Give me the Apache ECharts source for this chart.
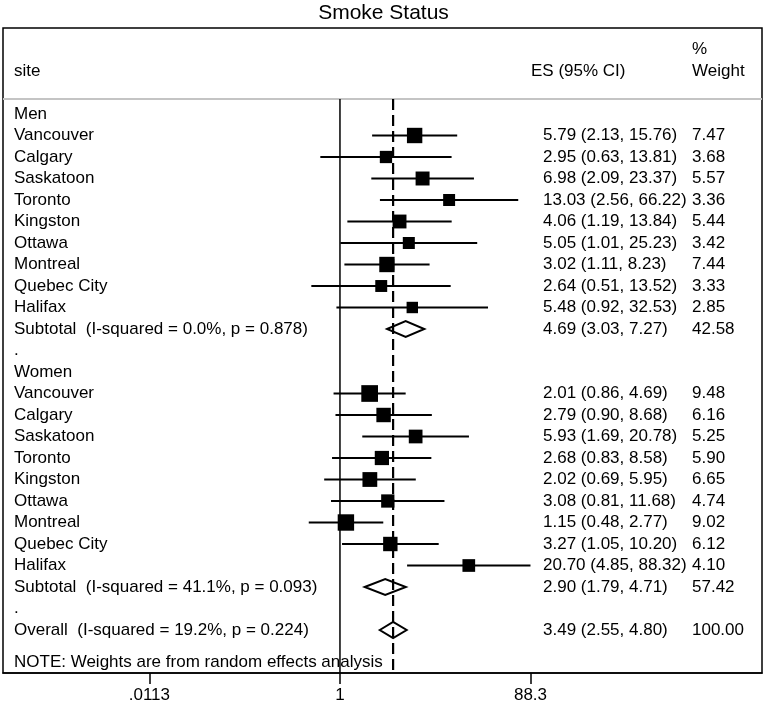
<!DOCTYPE html>
<html><head><meta charset="utf-8">
<script src="https://cdn.jsdelivr.net/npm/echarts@6/dist/echarts.min.js"></script>
<style>html,body{margin:0;padding:0;background:#fff}#c{width:767px;height:706px}</style>
</head><body><div id="c"></div>
<script>
// ---------- data ----------
const chartTitle = 'Smoke Status';
const headerSite = 'site';
const headerES = 'ES (95% CI)';
const headerW1 = '%';
const headerW2 = 'Weight';
const groups = ['Men', 'Women'];
const sites = ['Vancouver', 'Calgary', 'Saskatoon', 'Toronto', 'Kingston', 'Ottawa', 'Montreal', 'Quebec City', 'Halifax'];
const menES = [5.79, 2.95, 6.98, 13.03, 4.06, 5.05, 3.02, 2.64, 5.48];
const menLo = [2.13, 0.63, 2.09, 2.56, 1.19, 1.01, 1.11, 0.51, 0.92];
const menHi = [15.76, 13.81, 23.37, 66.22, 13.84, 25.23, 8.23, 13.52, 32.53];
const menW = [7.47, 3.68, 5.57, 3.36, 5.44, 3.42, 7.44, 3.33, 2.85];
const womenES = [2.01, 2.79, 5.93, 2.68, 2.02, 3.08, 1.15, 3.27, 20.70];
const womenLo = [0.86, 0.90, 1.69, 0.83, 0.69, 0.81, 0.48, 1.05, 4.85];
const womenHi = [4.69, 8.68, 20.78, 8.58, 5.95, 11.68, 2.77, 10.20, 88.32];
const womenW = [9.48, 6.16, 5.25, 5.90, 6.65, 4.74, 9.02, 6.12, 4.10];
const subtotalLabels = ['Subtotal  (I-squared = 0.0%, p = 0.878)', 'Subtotal  (I-squared = 41.1%, p = 0.093)'];
const subES = [4.69, 2.90];
const subLo = [3.03, 1.79];
const subHi = [7.27, 4.71];
const subW = [42.58, 57.42];
const overallLabel = 'Overall  (I-squared = 19.2%, p = 0.224)';
const overallES = 3.49, overallLo = 2.55, overallHi = 4.80, overallW = 100.00;
const noteText = 'NOTE: Weights are from random effects analysis';
const xTickValues = [0.0113, 1, 88.3];
const xTickLabels = ['.0113', '1', '88.3'];

// ---------- build rows ----------
const L = Math.log10;
const textRows = [];   // {row, left, es, w}
const studies = [];    // [logES, logLo, logHi, row, weight]
const diamonds = [];   // [logES, logLo, logHi, row]
const fmtES = (e, lo, hi) => e.toFixed(2) + ' (' + lo.toFixed(2) + ', ' + hi.toFixed(2) + ')';
let r = 0;
const groupData = [[menES, menLo, menHi, menW], [womenES, womenLo, womenHi, womenW]];
groups.forEach((g, gi) => {
  textRows.push({ row: r, left: g }); r++;
  const [es, lo, hi, w] = groupData[gi];
  sites.forEach((s, i) => {
    textRows.push({ row: r, left: s, es: fmtES(es[i], lo[i], hi[i]), w: w[i].toFixed(2) });
    studies.push([L(es[i]), L(lo[i]), L(hi[i]), r, w[i]]);
    r++;
  });
  textRows.push({ row: r, left: subtotalLabels[gi], es: fmtES(subES[gi], subLo[gi], subHi[gi]), w: subW[gi].toFixed(2) });
  diamonds.push([L(subES[gi]), L(subLo[gi]), L(subHi[gi]), r]);
  r++;
  textRows.push({ row: r, left: '.' }); r++;
});
textRows.push({ row: r, left: overallLabel, es: fmtES(overallES, overallLo, overallHi), w: overallW.toFixed(2) });
diamonds.push([L(overallES), L(overallLo), L(overallHi), r]);
const lastRow = r;
textRows.push({ row: lastRow + 1.5, left: noteText });
// header rows
textRows.push({ row: -2, left: headerSite, es: headerES, w: headerW2, header: true });
textRows.push({ row: -3, w: headerW1, header: true });

// ---------- layout ----------
const FONT = 'Liberation Sans';
const FS = 17;
const yMin = -4, yMax = 26;
const headerLineRow = -0.7;
const xMin = -3.442, xMax = 4.311;
const colLeftX = 14, colESX = 543, colESHeadX = 531, colWX = 692;
const tickPos = xTickValues.map(L);

const chart = echarts.init(document.getElementById('c'), null, { renderer: 'canvas' });

function txt(text, x, y) {
  return { type: 'text', style: { text, x, y, fill: '#000', fontSize: FS, fontFamily: FONT, verticalAlign: 'middle', align: 'left' } };
}

chart.setOption({
  backgroundColor: '#fff',
  animation: false,
  title: {
    text: chartTitle, left: 'center', top: -2,
    textStyle: { fontSize: 21, fontWeight: 'normal', color: '#000', fontFamily: FONT }
  },
  grid: { left: 3, right: 5, top: 28, bottom: 33, show: true, borderColor: '#000', borderWidth: 1.5, backgroundColor: '#fff' },
  xAxis: {
    type: 'value', min: xMin, max: xMax,
    axisLine: { show: true, onZero: false, lineStyle: { color: '#000', width: 1.5 } },
    splitLine: { show: false },
    axisTick: { show: true, customValues: tickPos, length: 11, lineStyle: { color: '#000', width: 1.5 } },
    axisLabel: {
      customValues: tickPos, fontSize: FS, color: '#000', fontFamily: FONT, margin: 14,
      formatter: v => {
        let best = 0;
        tickPos.forEach((p, i) => { if (Math.abs(p - v) < Math.abs(tickPos[best] - v)) best = i; });
        return xTickLabels[best];
      }
    }
  },
  yAxis: { type: 'value', inverse: true, min: yMin, max: yMax, show: false },
  series: [
    {
      type: 'custom', name: 'text', z: 1, silent: true,
      data: textRows.map(t => [0, t.row]),
      renderItem(params, api) {
        const t = textRows[params.dataIndex];
        const y = api.coord([0, api.value(1)])[1];
        const ch = [];
        if (t.left) ch.push(txt(t.left, colLeftX, y));
        if (t.es) ch.push(txt(t.es, t.header ? colESHeadX : colESX, y));
        if (t.w) ch.push(txt(t.w, colWX, y));
        return { type: 'group', children: ch };
      }
    },
    {
      type: 'custom', name: 'reflines', z: 2, silent: true,
      data: [[0, headerLineRow]],
      renderItem(params, api) {
        const a = api.coord([xMin, headerLineRow]);
        const b = api.coord([xMax, headerLineRow]);
        const n0 = api.coord([0, headerLineRow]);
        const n1 = api.coord([0, yMax]);
        const d0 = api.coord([L(overallES), headerLineRow]);
        const d1 = api.coord([L(overallES), yMax]);
        return {
          type: 'group', children: [
            { type: 'line', shape: { x1: a[0], y1: a[1], x2: b[0], y2: b[1] }, style: { stroke: '#c4c4c4', lineWidth: 2 } },
            { type: 'line', shape: { x1: n0[0], y1: n0[1], x2: n1[0], y2: n1[1] }, style: { stroke: '#000', lineWidth: 1.5 } },
            { type: 'line', shape: { x1: d0[0], y1: d0[1], x2: d1[0], y2: d1[1] }, style: { stroke: '#000', lineWidth: 2.2, lineDash: [11, 5] } }
          ]
        };
      }
    },
    {
      type: 'custom', name: 'studies', z: 3, silent: true,
      data: studies,
      renderItem(params, api) {
        const c = api.coord([api.value(0), api.value(3)]);
        const lo = api.coord([api.value(1), api.value(3)]);
        const hi = api.coord([api.value(2), api.value(3)]);
        const s = 5 + 3.8 * Math.sqrt(api.value(4));
        return {
          type: 'group', children: [
            { type: 'line', shape: { x1: lo[0], y1: lo[1], x2: hi[0], y2: hi[1] }, style: { stroke: '#000', lineWidth: 2 } },
            { type: 'rect', shape: { x: c[0] - s / 2, y: c[1] - s / 2, width: s, height: s }, style: { fill: '#000' } }
          ]
        };
      }
    },
    {
      type: 'custom', name: 'diamonds', z: 4, silent: true,
      data: diamonds,
      renderItem(params, api) {
        const c = api.coord([api.value(0), api.value(3)]);
        const lo = api.coord([api.value(1), api.value(3)]);
        const hi = api.coord([api.value(2), api.value(3)]);
        const h = 8;
        return {
          type: 'polygon',
          shape: { points: [[lo[0], lo[1]], [c[0], c[1] - h], [hi[0], hi[1]], [c[0], c[1] + h]] },
          style: { fill: 'none', stroke: '#000', lineWidth: 2 }
        };
      }
    }
  ]
});
</script></body></html>
